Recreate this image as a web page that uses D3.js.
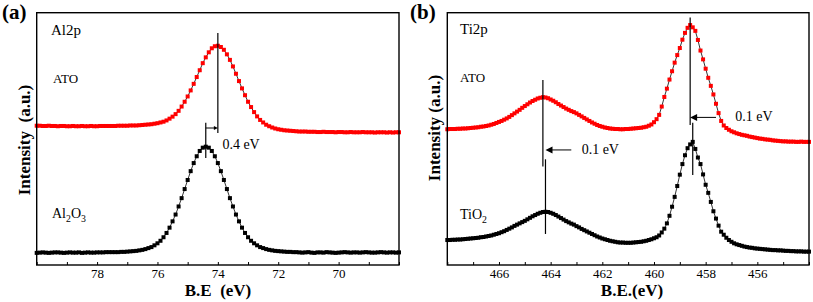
<!DOCTYPE html>
<html><head><meta charset="utf-8">
<script src="https://cdn.jsdelivr.net/npm/d3@7"></script>
<style>
body{margin:0;background:#fff}
svg{display:block}
text{font-family:"Liberation Serif","Times New Roman",serif;fill:#000}
</style>
</head><body>
<svg id="chart" width="813" height="302"></svg>
<script>
// ---------- DATA ----------
// Binding-energy sampling grids (eV), 0.1 eV steps
const alEnergy = d3.range(121).map(i => +(80 - 0.1 * i).toFixed(1));   // 80.0 -> 68.0
const tiEnergy = d3.range(141).map(i => +(468 - 0.1 * i).toFixed(1));  // 468.0 -> 454.0

// Al2p intensities (a.u.)
const alATO = [
55.2,55.2,55.1,55.1,55.2,55.1,55.1,55.0,55.1,55.1, 55.0,55.0,55.1,55.0,55.0,55.1,55.0,55.0,55.1,55.0,
55.0,55.1,55.1,55.1,55.1,55.1,55.1,55.2,55.2,55.2,
55.2,55.3,55.3,55.3,55.4,55.5,55.6,55.7,55.8,56.0, 56.2,56.5,56.8,57.3,58.0,58.8,59.8,61.1,62.8,64.7,
66.8,69.2,71.8,74.5,77.2,80.0,82.3,84.3,85.9,86.7, 86.9,86.4,85.3,83.5,81.3,78.7,75.8,72.9,70.0,67.3,
64.7,62.6,60.6,58.9,57.5,56.5,55.6,55.0,54.5,54.1, 53.8,53.6,53.4,53.3,53.2,53.1,53.0,52.9,52.9,52.9,
52.8,
52.8,52.8,52.7,52.7,52.8,52.7,52.7,52.7,52.6,52.7, 52.7,52.6,52.6,52.7,52.6,52.6,52.6,52.7,52.6,52.6,
52.6,52.5,52.6,52.6,52.6,52.5,52.6,52.5,52.6,52.6
];
const alAl2O3 = [
4.8,4.9,5.0,4.9,4.8,4.9,5.0,5.0,4.9,4.8, 4.9,5.0,4.9,4.9,5.0,4.8,4.9,5.0,4.9,4.9,
5.0,5.0,5.0,5.1,5.1,5.1,
5.1,5.1,5.2,5.2,5.3,5.4,5.5,5.6,5.8,6.0, 6.3,6.7,7.1,7.8,8.6,9.6,11.0,12.7,14.8,17.3,
20.0,23.2,26.5,30.1,33.7,37.2,40.4,43.1,45.2,46.5, 46.9,46.5,45.2,43.1,40.4,37.2,33.7,30.1,26.5,23.2,
20.0,17.3,14.8,12.7,11.0,9.6,8.6,7.8,7.1,6.7, 6.3,6.0,5.8,5.6,5.5,5.4,5.3,5.2,5.2,5.1,
5.1,
5.0,4.9,5.0,5.1,4.9,4.8,5.0,5.0,4.9,5.1, 5.0,4.9,4.8,4.9,5.0,5.1,5.0,4.9,5.0,5.0,
4.9,5.0,5.1,5.0,4.9,4.9,5.0,5.1,5.0,4.9, 5.0,5.0,4.9,5.0
];

// Ti2p intensities (a.u.)
const tiATO = [
53.8,53.9,53.9,53.9,54.0,54.0,54.1,54.1,54.2,54.3, 54.4,54.5,54.6,54.8,54.9,55.1,55.3,55.6,55.9,56.3,
56.7,57.1,57.6,58.1,58.7,59.4,60.1,60.8,61.5,62.3, 63.0,63.7,64.4,65.0,65.5,66.0,66.3,66.5,66.4,66.1,
65.6,65.1,64.5,63.8,63.2,62.6,62.0,61.5,61.0,60.6, 60.1,59.5,58.9,58.3,57.7,57.1,56.5,56.0,55.5,55.1,
54.8,54.5,54.3,54.1,54.0,53.9,53.9,53.8,53.8,53.9, 53.9,54.0,54.1,54.2,54.3,54.4,54.6,54.8,55.2,55.7,
56.6,57.8,59.5,62.8,66.6,69.9,73.5,76.8,80.2,83.2, 86.0,89.3,92.0,94.0,95.1,94.2,92.8,89.2,85.0,81.5,
77.8,74.2,71.0,67.6,63.9,60.2,57.1,55.3,54.3,53.6, 53.0,52.6,52.2,51.9,51.6,51.4,51.2,50.9,50.7,50.5,
50.3,50.1,50.0,49.8,49.7,49.6,49.4,49.3,49.2,49.1, 49.0,49.0,48.9,48.9,48.9,48.8,48.8,48.9,48.8,48.8,
48.8
];
const tiTiO2 = [
9.9,9.9,10.0,10.0,10.1,10.1,10.2,10.3,10.4,10.5, 10.6,10.7,10.8,11.0,11.1,11.3,11.5,11.7,12.0,12.3,
12.6,13.0,13.4,13.9,14.4,14.9,15.5,16.0,16.5,17.0, 17.5,18.1,18.7,19.3,19.8,20.3,20.7,21.0,21.1,21.0,
20.7,20.3,19.8,19.2,18.6,18.0,17.4,16.9,16.4,16.0, 15.4,14.9,14.3,13.8,13.3,12.8,12.3,11.8,11.3,10.9,
10.5,10.2,9.9,9.6,9.4,9.2,9.0,8.9,8.9,8.8, 8.8,8.8,8.9,9.0,9.1,9.2,9.4,9.6,9.9,10.2,
10.6,11.0,11.7,12.9,14.4,16.5,19.5,23.1,27.0,31.3, 35.8,40.0,43.5,46.3,47.8,48.8,46.0,42.6,40.0,35.9,
31.8,28.6,25.0,21.3,18.4,15.6,13.2,12.0,10.8,9.9, 9.2,8.6,8.2,7.9,7.6,7.3,7.1,6.9,6.8,6.6,
6.5,6.4,6.3,6.2,6.1,6.0,5.9,5.9,5.8,5.8, 5.7,5.6,5.6,5.5,5.5,5.4,5.4,5.4,5.3,5.3,
5.3
];

// Axis ticks
const alTickLabels = [78, 76, 74, 72, 70];
const tiTickLabels = [466, 464, 462, 460, 458, 456];

// Peak-position markers: [energy, intensity top, intensity bottom]
const alPeakLines = [[74.0, 92.0, 52.3], [74.4, 56.4, 42.4]];
const tiPeakLines = [[464.3, 73.3, 39.0], [464.2, 41.9, 12.3], [458.6, 98.1, 55.5], [458.5, 56.4, 35.7]];
// Shift arrows: [from energy, to energy (head), intensity level]
const alArrows = [[74.4, 74.0, 54.3]];
const tiArrows = [[463.2, 464.2, 45.6], [457.6, 458.6, 58.5]];
// Shift labels: [text, energy, intensity]
const alShiftText = [["0.4 eV", 73.85, 45.8]];
const tiShiftText = [["0.1 eV", 462.8, 43.9], ["0.1 eV", 456.85, 56.9]];

// ---------- DRAW ----------
const svg = d3.select("#chart");
const RED = "#ff0000";

function panel(cfg) {
  const x = d3.scaleLinear().domain(cfg.xDomain).range([cfg.left, cfg.right]);
  const y = d3.scaleLinear().domain([0, 100]).range([cfg.bottom, cfg.top]);
  const g = svg.append("g");

  // axis with inner ticks every 1 eV, labels on given ticks
  const allTicks = d3.range(Math.ceil(Math.min(...cfg.xDomain)), Math.floor(Math.max(...cfg.xDomain)) + 1);
  const ax = g.append("g").attr("transform", `translate(0,${cfg.bottom})`)
    .call(d3.axisBottom(x).tickValues(allTicks).tickSizeInner(-3).tickSizeOuter(0).tickPadding(4)
      .tickFormat(d => cfg.ticks.includes(d) ? d : ""));
  ax.select(".domain").remove();
  ax.selectAll("line").attr("stroke", "#000").attr("stroke-width", 1);
  ax.selectAll("text").attr("font-family", '"Liberation Serif","Times New Roman",serif')
    .attr("font-size", 13).attr("fill", "#000");

  // series
  cfg.series.forEach(s => {
    const pts = cfg.energy.map((e, i) => [e, s.values[i]]);
    g.append("path").datum(pts)
      .attr("fill", "none").attr("stroke", "#000").attr("stroke-width", 0.8)
      .attr("d", d3.line().x(d => x(d[0])).y(d => y(d[1])));
    g.append("g").selectAll("rect").data(pts).join("rect")
      .attr("x", d => x(d[0]) - 2).attr("y", d => y(d[1]) - 2)
      .attr("width", 4).attr("height", 4).attr("fill", s.color);
  });

  // frame
  g.append("rect").attr("x", cfg.left).attr("y", cfg.top)
    .attr("width", cfg.right - cfg.left).attr("height", cfg.bottom - cfg.top)
    .attr("fill", "none").attr("stroke", "#000").attr("stroke-width", 1.4);

  // peak lines
  cfg.peakLines.forEach(p => {
    g.append("line").attr("x1", x(p[0])).attr("x2", x(p[0]))
      .attr("y1", y(p[1])).attr("y2", y(p[2])).attr("stroke", "#000").attr("stroke-width", 1.2);
  });
  // arrows
  cfg.arrows.forEach(a => {
    const x0 = x(a[0]), x1 = x(a[1]), yy = y(a[2]);
    const dir = Math.sign(x1 - x0);
    const hl = cfg.headLen, hw = cfg.headW;
    g.append("line").attr("x1", x0).attr("x2", x1 - dir * hl * 0.8).attr("y1", yy).attr("y2", yy)
      .attr("stroke", "#000").attr("stroke-width", 1);
    g.append("path").attr("d", `M${x1},${yy}L${x1 - dir * hl},${yy - hw}L${x1 - dir * hl},${yy + hw}Z`)
      .attr("fill", "#000");
  });
  cfg.shiftText.forEach(t => {
    g.append("text").attr("x", x(t[1])).attr("y", y(t[2])).attr("font-size", 14).text(t[0]);
  });

  // in-plot labels
  cfg.labels.forEach(l => {
    const t = g.append("text").attr("x", l.x).attr("y", l.y).attr("font-size", l.size);
    l.parts.forEach(p => {
      const ts = t.append("tspan").text(p[0]);
      if (p[1]) ts.attr("font-size", l.size * 0.7).attr("dy", 4);
      else if (p[2]) ts.attr("dy", -4);
    });
  });

  // axis titles
  g.append("text").attr("x", cfg.xTitleX).attr("y", 296).attr("text-anchor", "middle")
    .attr("font-size", 17).attr("font-weight", "bold").attr("xml:space", "preserve")
    .style("white-space", "pre").text(cfg.xTitle);
  g.append("text").attr("transform", `translate(${cfg.yTitleX},${cfg.yTitleY}) rotate(-90)`)
    .attr("text-anchor", "middle").attr("font-size", 17).attr("font-weight", "bold")
    .style("white-space", "pre").text(cfg.yTitle);
  g.append("text").attr("x", cfg.tagX).attr("y", 19).attr("font-size", 21).attr("font-weight", "bold")
    .text(cfg.tag);
}

panel({
  xDomain: [80, 68], left: 36.7, right: 399, top: 12.7, bottom: 265,
  energy: alEnergy, ticks: alTickLabels,
  series: [{values: alAl2O3, color: "#000"}, {values: alATO, color: RED}],
  peakLines: alPeakLines, arrows: alArrows, shiftText: alShiftText, headLen: 4, headW: 2,
  labels: [
    {x: 51, y: 35, size: 15, parts: [["Al2p"]]},
    {x: 53, y: 83, size: 13, parts: [["ATO"]]},
    {x: 52, y: 218, size: 14, parts: [["Al"], ["2", true], ["O", false, true], ["3", true]]}
  ],
  xTitle: "B.E  (eV)", xTitleX: 218, yTitle: "Intensity  (a.u.)", yTitleX: 30, yTitleY: 140,
  tag: "(a)", tagX: 2
});

panel({
  xDomain: [468, 454], left: 447.3, right: 809, top: 12.7, bottom: 265,
  energy: tiEnergy, ticks: tiTickLabels,
  series: [{values: tiTiO2, color: "#000"}, {values: tiATO, color: RED}],
  peakLines: tiPeakLines, arrows: tiArrows, shiftText: tiShiftText, headLen: 7, headW: 3.5,
  labels: [
    {x: 460, y: 34, size: 15, parts: [["Ti2p"]]},
    {x: 460, y: 82, size: 13, parts: [["ATO"]]},
    {x: 460, y: 219, size: 14, parts: [["TiO"], ["2", true]]}
  ],
  xTitle: "B.E.(eV)", xTitleX: 632, yTitle: "Intensity (a.u.)", yTitleX: 440, yTitleY: 128,
  tag: "(b)", tagX: 410
});
</script>
</body></html>
